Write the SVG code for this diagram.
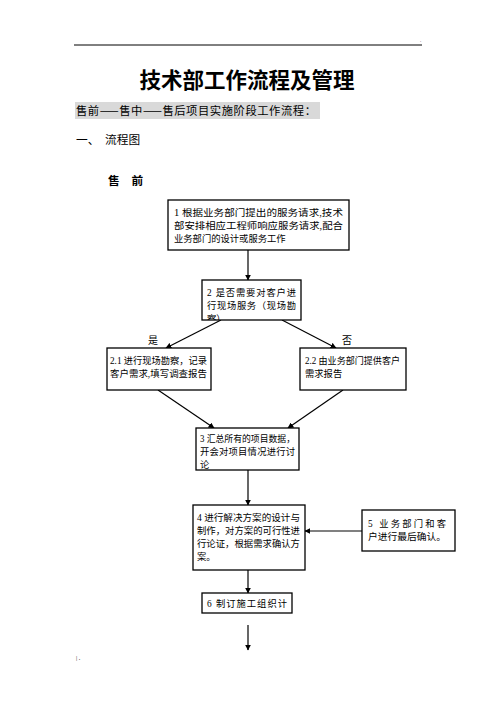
<svg xmlns="http://www.w3.org/2000/svg" width="496" height="702" viewBox="0 0 496 702">
<style>
.t{font-family:"Liberation Serif","Noto Sans CJK SC",serif;fill:#000}
.c{font-family:"Noto Sans CJK SC","Liberation Serif",sans-serif;fill:#000}
.b{font-size:9.3px}
.box{fill:#fff;stroke:#000;stroke-width:1.3}
.ln{stroke:#000;stroke-width:1.2;fill:none}
</style>
<defs>
<marker id="ah" viewBox="0 0 10 10" refX="9" refY="5" markerWidth="6" markerHeight="6" orient="auto" markerUnits="userSpaceOnUse">
<path d="M0,0 L10,5 L0,10 z" fill="#000"/>
</marker>
<clipPath id="c2"><rect x="202" y="280" width="99" height="40"/></clipPath>
</defs>
<rect width="496" height="702" fill="#fff"/>
<g id="header">
<line x1="74" y1="45" x2="422" y2="45" stroke="#000" stroke-width="1"/>
<text class="t" x="420" y="42" font-size="5" fill="#666">.</text>
</g>
<text class="c" x="247" y="88" font-size="21.5" font-weight="bold" text-anchor="middle">技术部工作流程及管理</text>
<rect x="75" y="102" width="245" height="17" fill="#d9d9d9"/>
<text class="c" x="76" y="115" font-size="11.3" textLength="240" lengthAdjust="spacing">售前——售中——售后项目实施阶段工作流程：</text>
<text class="c" x="76" y="144" font-size="11.7">一、</text>
<text class="c" x="105" y="144" font-size="11.7">流程图</text>
<text class="c" x="108" y="185" font-size="11.7" font-weight="bold">售　前</text>

<g id="connectors">
<line class="ln" x1="248" y1="250" x2="248" y2="280" marker-end="url(#ah)"/>
<line class="ln" x1="221" y1="320" x2="166" y2="348" marker-end="url(#ah)"/>
<line class="ln" x1="282" y1="320" x2="336" y2="348" marker-end="url(#ah)"/>
<line class="ln" x1="158" y1="390" x2="214" y2="428" marker-end="url(#ah)"/>
<line class="ln" x1="343" y1="390" x2="288" y2="428" marker-end="url(#ah)"/>
<line class="ln" x1="248" y1="470" x2="248" y2="505" marker-end="url(#ah)"/>
<line x1="362" y1="531" x2="305" y2="531" stroke="#808080" stroke-width="2.2" marker-end="url(#ah)"/>
<line class="ln" x1="248" y1="570" x2="248" y2="593" marker-end="url(#ah)"/>
<line class="ln" x1="248" y1="625" x2="248" y2="650" marker-end="url(#ah)"/>
<text class="t" x="148" y="344" font-size="10">是</text>
<text class="t" x="342" y="344" font-size="10">否</text>
</g>

<g id="n1">
<rect class="box" x="168" y="200" width="181" height="50"/>
<text class="t b" x="174" y="216" textLength="169" lengthAdjust="spacingAndGlyphs">1 根据业务部门提出的服务请求,技术</text>
<text class="t b" x="174" y="229" textLength="169" lengthAdjust="spacingAndGlyphs">部安排相应工程师响应服务请求,配合</text>
<text class="t b" x="174" y="242">业务部门的设计或服务工作</text>
</g>
<g id="n2">
<rect class="box" x="202" y="280" width="99" height="40"/>
<text class="t b" x="207" y="296" textLength="89" lengthAdjust="spacing">2 是否需要对客户进</text>
<text class="t b" x="207" y="309" textLength="89" lengthAdjust="spacing">行现场服务（现场勘</text>
<text class="t b" x="207" y="322" clip-path="url(#c2)">察）</text>
</g>
<g id="n21">
<rect class="box" x="107" y="348" width="104" height="42"/>
<text class="t b" x="110" y="364" textLength="97" lengthAdjust="spacingAndGlyphs">2.1 进行现场勘察，记录</text>
<text class="t b" x="110" y="377" textLength="97" lengthAdjust="spacingAndGlyphs">客户需求,填写调查报告</text>
</g>
<g id="n22">
<rect class="box" x="300" y="348" width="106" height="42"/>
<text class="t b" x="305" y="364" textLength="95" lengthAdjust="spacingAndGlyphs">2.2 由业务部门提供客户</text>
<text class="t b" x="305" y="377">需求报告</text>
</g>
<g id="n3">
<rect class="box" x="196" y="428" width="103" height="42"/>
<text class="t b" x="200" y="442" textLength="95" lengthAdjust="spacingAndGlyphs">3 汇总所有的项目数据，</text>
<text class="t b" x="200" y="455" textLength="95" lengthAdjust="spacing">开会对项目情况进行讨</text>
<text class="t b" x="200" y="468">论</text>
</g>
<g id="n4">
<rect class="box" x="193" y="505" width="112" height="65"/>
<text class="t b" x="197" y="521" textLength="103" lengthAdjust="spacingAndGlyphs">4 进行解决方案的设计与</text>
<text class="t b" x="197" y="534" textLength="103" lengthAdjust="spacingAndGlyphs">制作，对方案的可行性进</text>
<text class="t b" x="197" y="547" textLength="103" lengthAdjust="spacingAndGlyphs">行论证，根据需求确认方</text>
<text class="t b" x="197" y="560">案。</text>
</g>
<g id="n5">
<rect class="box" x="362" y="510" width="93" height="41"/>
<text class="t b" x="368" y="527" textLength="78" lengthAdjust="spacing">5 业务部门和客</text>
<text class="t b" x="368" y="540" textLength="78" lengthAdjust="spacingAndGlyphs">户进行最后确认。</text>
</g>
<g id="n6">
<rect class="box" x="202" y="593" width="90" height="20"/>
<text class="t b" x="207" y="607" textLength="80" lengthAdjust="spacing">6 制订施工组织计</text>
</g>
<text class="t" x="76" y="660" font-size="6" fill="#888">| .</text>
</svg>
